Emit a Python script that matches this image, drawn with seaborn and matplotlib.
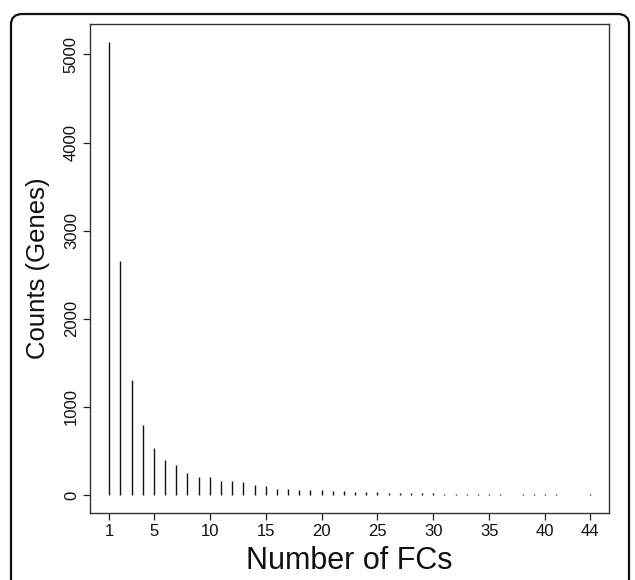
import matplotlib
matplotlib.use("Agg")
import matplotlib.pyplot as plt
import seaborn as sns
from matplotlib.patches import FancyBboxPatch

# number of FCs per gene and how many genes have it
n_fcs = [1, 2, 3, 4, 5, 6, 7, 8, 9, 10,
         11, 12, 13, 14, 15, 16, 17, 18, 19, 20,
         21, 22, 23, 24, 25, 26, 27, 28, 29, 30,
         31, 32, 33, 34, 35, 36, 38, 39, 40, 41, 44]
counts = [5140, 2655, 1299, 789, 536, 401, 340, 253, 208, 198,
          163, 153, 142, 110, 102, 72, 71, 57, 57, 53,
          49, 48, 38, 36, 35, 25, 22, 20, 18, 17,
          15, 13, 12, 11, 10, 9, 7, 6, 6, 5, 5]

x_ticks = [1, 5, 10, 15, 20, 25, 30, 35, 40, 44]
y_ticks = [0, 1000, 2000, 3000, 4000, 5000]


def main():
    sns.set_theme(style="ticks")
    plt.rcParams["font.family"] = ["Liberation Sans", "DejaVu Sans"]

    fig = plt.figure(figsize=(6.35, 5.8), dpi=100)
    ax = fig.add_axes([90 / 635, 67 / 580, 519 / 635, 489 / 580])

    ax.vlines(n_fcs, 0, counts, color="#111111", linewidth=1.0)

    lo, hi = min(n_fcs), max(n_fcs)
    pad = (hi - lo) * 0.04
    ax.set_xlim(lo - pad, hi + pad)
    ypad = max(counts) * 0.04
    ax.set_ylim(-ypad, max(counts) + ypad)

    ax.set_xticks(x_ticks)
    ax.set_xticklabels([str(t) for t in x_ticks], fontsize=12)
    ax.set_yticks(y_ticks)
    ax.set_yticklabels([str(t) for t in y_ticks], fontsize=12,
                       rotation=90, va="center")
    ax.tick_params(axis="both", length=5, width=0.9, color="#222222",
                   pad=3, labelcolor="#111111")

    for s in ax.spines.values():
        s.set_visible(True)
        s.set_linewidth(1.0)
        s.set_color("#333333")

    ax.set_xlabel("Number of FCs", fontsize=22, color="#111111", labelpad=5)
    ax.set_ylabel("Counts (Genes)", fontsize=18.5, color="#111111", labelpad=10)

    # rounded outer frame, open at the bottom edge of the image
    frame = FancyBboxPatch((11 / 635, -0.05), 618 / 635, 573 / 580 + 0.05 - 7 / 580,
                           boxstyle="round,pad=0,rounding_size=0.018",
                           transform=fig.transFigure, fill=False,
                           edgecolor="#111111", linewidth=1.6, clip_on=False)
    fig.patches.append(frame)

    fig.savefig("out.png", dpi=100)
    plt.close(fig)


if __name__ == "__main__":
    main()
